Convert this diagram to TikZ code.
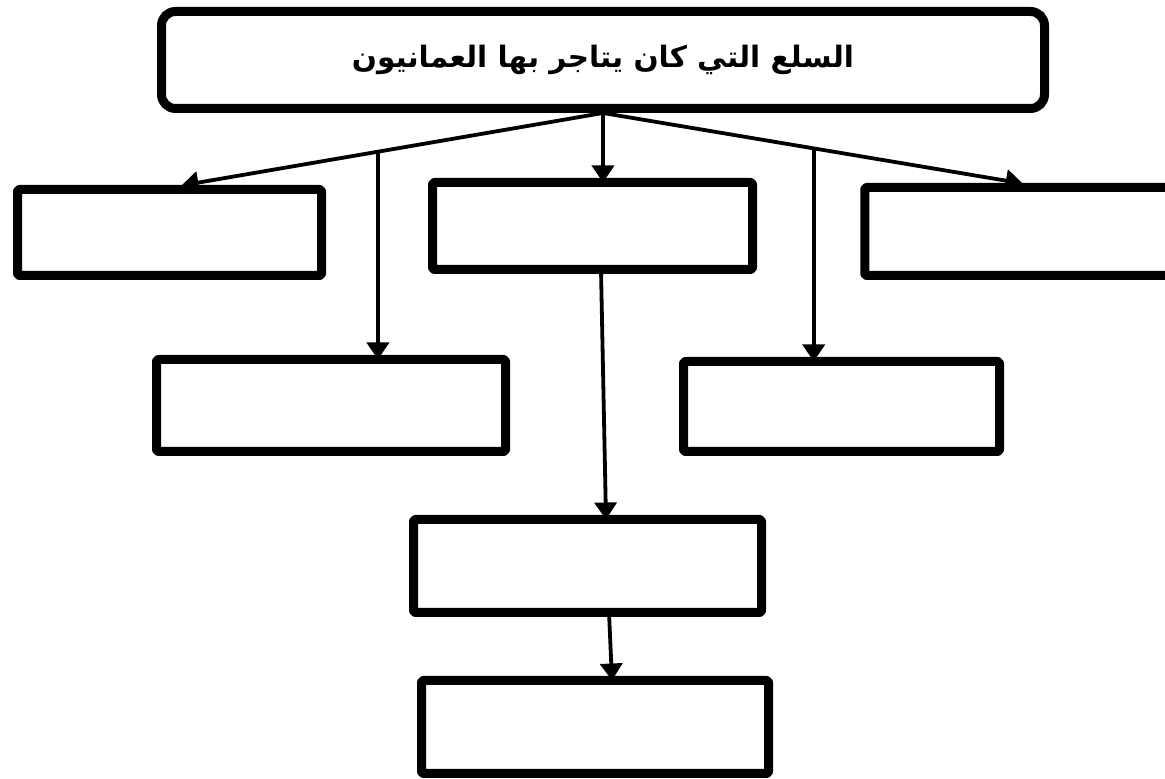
\documentclass[tikz,border=0pt]{standalone}
\usepackage{fontspec}
\newfontfamily\arabicfont[Script=Arabic]{DejaVu Sans}
\TeXXeTstate=1
\usetikzlibrary{arrows.meta,calc}
\begin{document}
\begin{tikzpicture}[x=1pt,y=1pt,
  box/.style={draw=black, line width=9pt, fill=white, inner sep=0pt, outer sep=0pt, rounded corners=2pt, line join=round},
  titlebox/.style={box, rounded corners=14pt},
  arr/.style={line width=3.8pt, -{Triangle[width=22pt,length=17pt]}}]
\useasboundingbox (0,0) rectangle (1165,779);
\fill[white] (0,0) rectangle (1165,779);
\node[titlebox, minimum width=883pt, minimum height=97pt] (title) at (603,719)
  {\raisebox{-4pt}{\arabicfont\bfseries\fontsize{29.5}{34}\selectfont\beginR السلع التي كان يتاجر بها العمانيون\endR}};
\node[box, minimum width=304pt, minimum height=86pt] (L1) at (169.5,546.5) {};
\node[box, minimum width=320pt, minimum height=87pt] (C1) at (592.5,553) {};
\node[box, minimum width=310pt, minimum height=88pt] (R1) at (1019.75,547.5) {};
\node[box, minimum width=349pt, minimum height=92pt] (L2) at (331,373.5) {};
\node[box, minimum width=316pt, minimum height=90pt] (R2) at (841.5,372.5) {};
\node[box, minimum width=348pt, minimum height=93pt] (C3) at (587.5,213) {};
\node[box, minimum width=347pt, minimum height=93pt] (C4) at (595,52) {};
\coordinate (hub) at ([yshift=-4.5pt]title.south);
\draw[arr] (hub) -- ([xshift=12pt,yshift=4pt]L1.north) coordinate[pos=0.534] (bl);
\draw[arr] (hub) -- ([xshift=3pt,yshift=4pt]R1.north) coordinate[pos=0.502] (br);
\draw[arr] (hub) -- ([xshift=10.5pt]C1.north);
\draw[arr] (bl) -- (bl |- L2.north);
\draw[arr] (br) -- (br |- R2.north);
\draw[arr] ([xshift=8.5pt]C1.south) -- ([xshift=18.5pt]C3.north);
\draw[arr] ([xshift=21.5pt]C3.south) -- ([xshift=17pt]C4.north);
\end{tikzpicture}
\end{document}
